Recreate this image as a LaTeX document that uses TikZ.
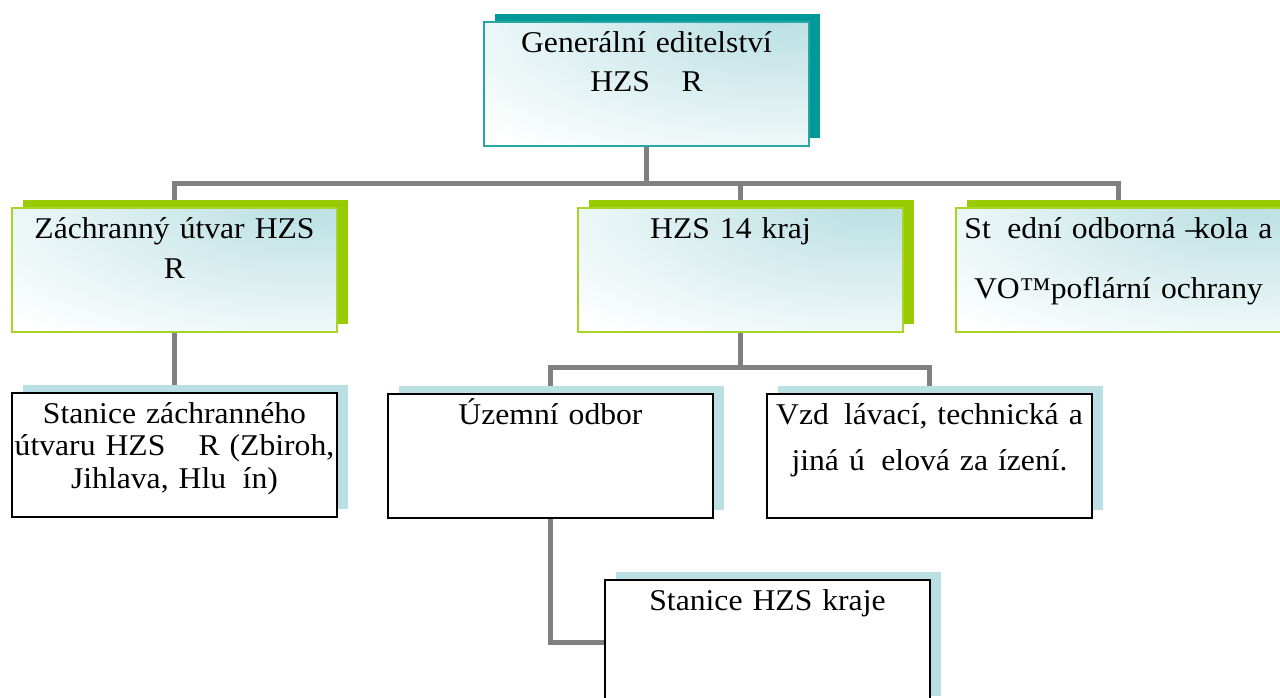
\documentclass[tikz,border=0pt]{standalone}
\usepackage{fontspec}
\setmainfont[FakeStretch=1.05]{Liberation Serif}
\usetikzlibrary{shadows,backgrounds}
\definecolor{tealdark}{HTML}{009999}
\definecolor{limegreen}{HTML}{99CC00}
\definecolor{paleblue}{HTML}{BBE0E3}
\definecolor{linegray}{HTML}{808080}

\begin{document}
\begin{tikzpicture}[
    x=0.75pt, y=-0.75pt,
    orgbox/.style={anchor=north west, rectangle, inner sep=0pt, text width=243.75pt, align=center, minimum height=93pt, text height=22.5pt, text depth=70.5pt, font=\fontsize{22.6pt}{24.4pt}\selectfont},
    fade/.style={fill=white, path picture={\shade[inner color=paleblue, outer color=white] ([xshift=-25pt]path picture bounding box.north east) ellipse (300pt and 120pt);}},
    topbox/.style={orgbox, fade, draw=tealdark!85, line width=1.5pt, general shadow={fill=tealdark, shadow xshift=7.9pt, shadow yshift=6pt}},
    greenbox/.style={orgbox, fade, draw=limegreen!85, line width=1.5pt, general shadow={fill=limegreen, shadow xshift=7.9pt, shadow yshift=6pt}},
    whitebox/.style={orgbox, fill=white, draw=black, line width=1.5pt, general shadow={fill=paleblue, shadow xshift=7.9pt, shadow yshift=6pt}},
    conn/.style={draw=linegray, line width=3.75pt}
]
\useasboundingbox (0,0) rectangle (1280,697);

% top
\node[topbox] (gen) at (483,21) {Generální editelství\\[4.85pt]HZS\hspace{1.05em}R};

% first level
\node[greenbox] (zu) at (11,207) {Záchranný útvar HZS\\[5.8pt]R};
\node[greenbox] (hzs) at (577,207) {HZS 14 kraj\kern15pt};
\node[greenbox] (sos) at (955,207) {St\hspace{0.55em}ední odborná –\kern-0.25em kola a\\[21.3pt]VO™poflární ochrany};

% second level
\node[whitebox] (stzu) at (11,392) {Stanice záchranného\\útvaru HZS\hspace{1.1em}R (Zbiroh,\\Jihlava, Hlu\hspace{0.55em}ín)};
\node[whitebox] (uo) at (387,393) {Územní odbor};
\node[whitebox] (vzd) at (766,393) {Vzd\hspace{0.5em}lávací, technická a\\[10.8pt]jiná ú\hspace{0.55em}elová za ízení.};

% third level
\node[whitebox] (sthzs) at (604,579) {Stanice HZS kraje};

% connectors
\begin{scope}[on background layer]
\coordinate (bus1) at (gen.south |- 0,183);
\coordinate (bus2) at (hzs.south |- 0,367);
\draw[conn] (gen.south) -- (bus1);
\draw[conn] (bus1) -| (zu.north);
\draw[conn] (bus1) -| (hzs.north);
\draw[conn] (bus1) -| (sos.north);
\draw[conn] (zu.south) -- (stzu.north);
\draw[conn] (hzs.south) -- (bus2);
\draw[conn] (bus2) -| (uo.north);
\draw[conn] (bus2) -| (vzd.north);
\draw[conn] (uo.south) |- (sthzs.west);
\end{scope}

\end{tikzpicture}
\end{document}
